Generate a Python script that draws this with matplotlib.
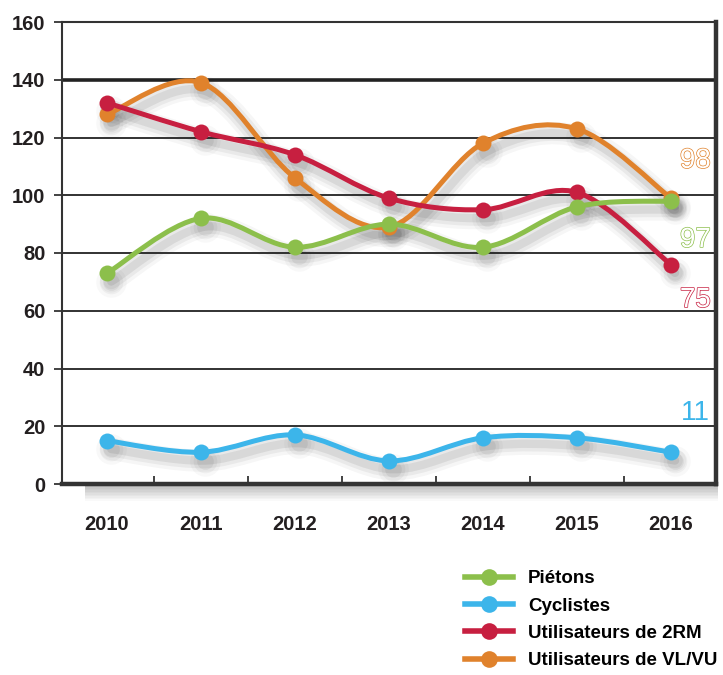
import numpy as np
import matplotlib
matplotlib.use("Agg")
from matplotlib import pyplot as plt
from matplotlib.path import Path
from matplotlib.patches import PathPatch, Rectangle
from matplotlib.lines import Line2D
from matplotlib import transforms, font_manager
import matplotlib.patheffects as pe

years = ["2010", "2011", "2012", "2013", "2014", "2015", "2016"]
pietons = [73, 92, 82, 90, 82, 96, 98]
cyclistes = [15, 11, 17, 8, 16, 16, 11]
deux_rm = [132, 122, 114, 99, 95, 101, 76]
vl_vu = [128, 139, 106, 89, 118, 123, 99]
series_names = ["Piétons", "Cyclistes", "Utilisateurs de 2RM", "Utilisateurs de VL/VU"]
end_labels = ["97", "11", "75", "98"]

colors = ["#8cbf4b", "#3cb5ea", "#c71f40", "#e0822c"]


def has_font(name):
    try:
        font_manager.findfont(name, fallback_to_default=False)
        return True
    except Exception:
        return False


narrow = "Liberation Sans Narrow" if has_font("Liberation Sans Narrow") else None


def smooth_path(x, y):
    # catmull-rom through the points, drawn as bezier segments
    x = np.asarray(x, float)
    y = np.asarray(y, float)
    px = np.r_[x[0], x, x[-1]]
    py = np.r_[y[0], y, y[-1]]
    verts = [(x[0], y[0])]
    codes = [Path.MOVETO]
    for i in range(1, len(x)):
        c1 = (px[i] + (px[i + 1] - px[i - 1]) / 6, py[i] + (py[i + 1] - py[i - 1]) / 6)
        c2 = (px[i + 1] - (px[i + 2] - px[i]) / 6, py[i + 1] - (py[i + 2] - py[i]) / 6)
        verts += [c1, c2, (x[i], y[i])]
        codes += [Path.CURVE4] * 3
    return Path(verts, codes)


fig = plt.figure(figsize=(7.23, 6.75), dpi=100)
ax = fig.add_axes([62 / 723, (675 - 484) / 675, (716 - 62) / 723, (484 - 22) / 675])

x = np.arange(len(years))
data = [pietons, cyclistes, deux_rm, vl_vu]
order = [3, 2, 0, 1]  # orange under, then red, green, blue

# soft shadows
shadow = ax.transData + transforms.ScaledTranslation(3 / 72, -6 / 72, fig.dpi_scale_trans)
for k in order:
    p = smooth_path(x, data[k])
    for w, a in [(16, 0.035), (11, 0.05), (6, 0.07)]:
        ax.add_patch(PathPatch(p, fill=False, lw=w, edgecolor="black", alpha=a,
                               transform=shadow, zorder=1, capstyle="round"))
        ax.plot(x, data[k], "o", ms=w + 6, color="black", alpha=a * 0.8,
                transform=shadow, zorder=1, mec="none")

for z, k in enumerate(order):
    ax.add_patch(PathPatch(smooth_path(x, data[k]), fill=False, lw=3.6,
                           edgecolor=colors[k], zorder=3 + z, capstyle="round"))
    ax.plot(x, data[k], "o", ms=11.5, color=colors[k], mec="none", zorder=3 + z)

ax.set_xlim(-0.479, 6.48)
ax.set_ylim(0, 160)
ax.set_yticks(range(0, 161, 20))
for v in range(20, 160, 20):
    ax.axhline(v, color="#222222", lw=2.6 if v == 140 else 1.3, zorder=2)

ax.set_xticks(x)
ax.set_xticklabels(years)
ax.set_xticks(x[:-1] + 0.5, minor=True)
ax.tick_params(axis="x", which="major", length=0, pad=22)
ax.tick_params(axis="x", which="minor", direction="in", length=6, width=1.2, color="#222222")
ax.tick_params(axis="y", length=6, width=1.2, pad=6, color="#222222")
for lab in ax.get_xticklabels() + ax.get_yticklabels():
    lab.set_fontfamily("Liberation Sans")
    lab.set_fontweight("bold")
    lab.set_fontsize(14.5)
    lab.set_color("#231f20")

for s, w in [("left", 1.5), ("top", 1.5), ("bottom", 3.2), ("right", 3.2)]:
    ax.spines[s].set_linewidth(w)
    ax.spines[s].set_color("#333333")

# grey shade under the bottom axis
for i in range(10):
    fig.patches.append(Rectangle(((85) / 723, (675 - 487 - i * 1.5) / 675), (718 - 85) / 723, 1.5 / 675,
                                 transform=fig.transFigure, color="black",
                                 alpha=0.25 * (1 - i / 10), lw=0))

# end labels
label_font = narrow if narrow else "Liberation Sans"
label_pos = {"98": (6.26, 111.9, 3), "97": (6.26, 84.5, 0), "75": (6.26, 63.7, 2)}
for txt in ["98", "97", "75"]:
    lx, ly, k = label_pos[txt]
    ax.text(lx, ly, txt, ha="center", va="center", fontsize=20, family=label_font,
            color="white", zorder=10,
            path_effects=[pe.withStroke(linewidth=1.0, foreground=colors[k])])
ax.text(6.26, 24.6, end_labels[1], ha="center", va="center", fontsize=20,
        family="Liberation Sans", color=colors[1], zorder=10)

handles = [Line2D([], [], color=c, lw=4, marker="o", ms=12, mec="none") for c in colors]
if narrow:
    leg_font = {"family": narrow, "weight": "bold", "size": 16}
    fs_px = 16 * 100 / 72
else:
    leg_font = {"family": "Liberation Sans", "weight": "bold", "size": 13.5}
    fs_px = 13.5 * 100 / 72
fig.legend(handles, series_names, loc="upper left", bbox_to_anchor=(465 / 723, 1 - 570 / 675),
           frameon=False, prop=leg_font, handlelength=48 / fs_px, handletextpad=15 / fs_px,
           labelspacing=0.55, borderpad=0, borderaxespad=0)

fig.savefig("out.png", dpi=100)
